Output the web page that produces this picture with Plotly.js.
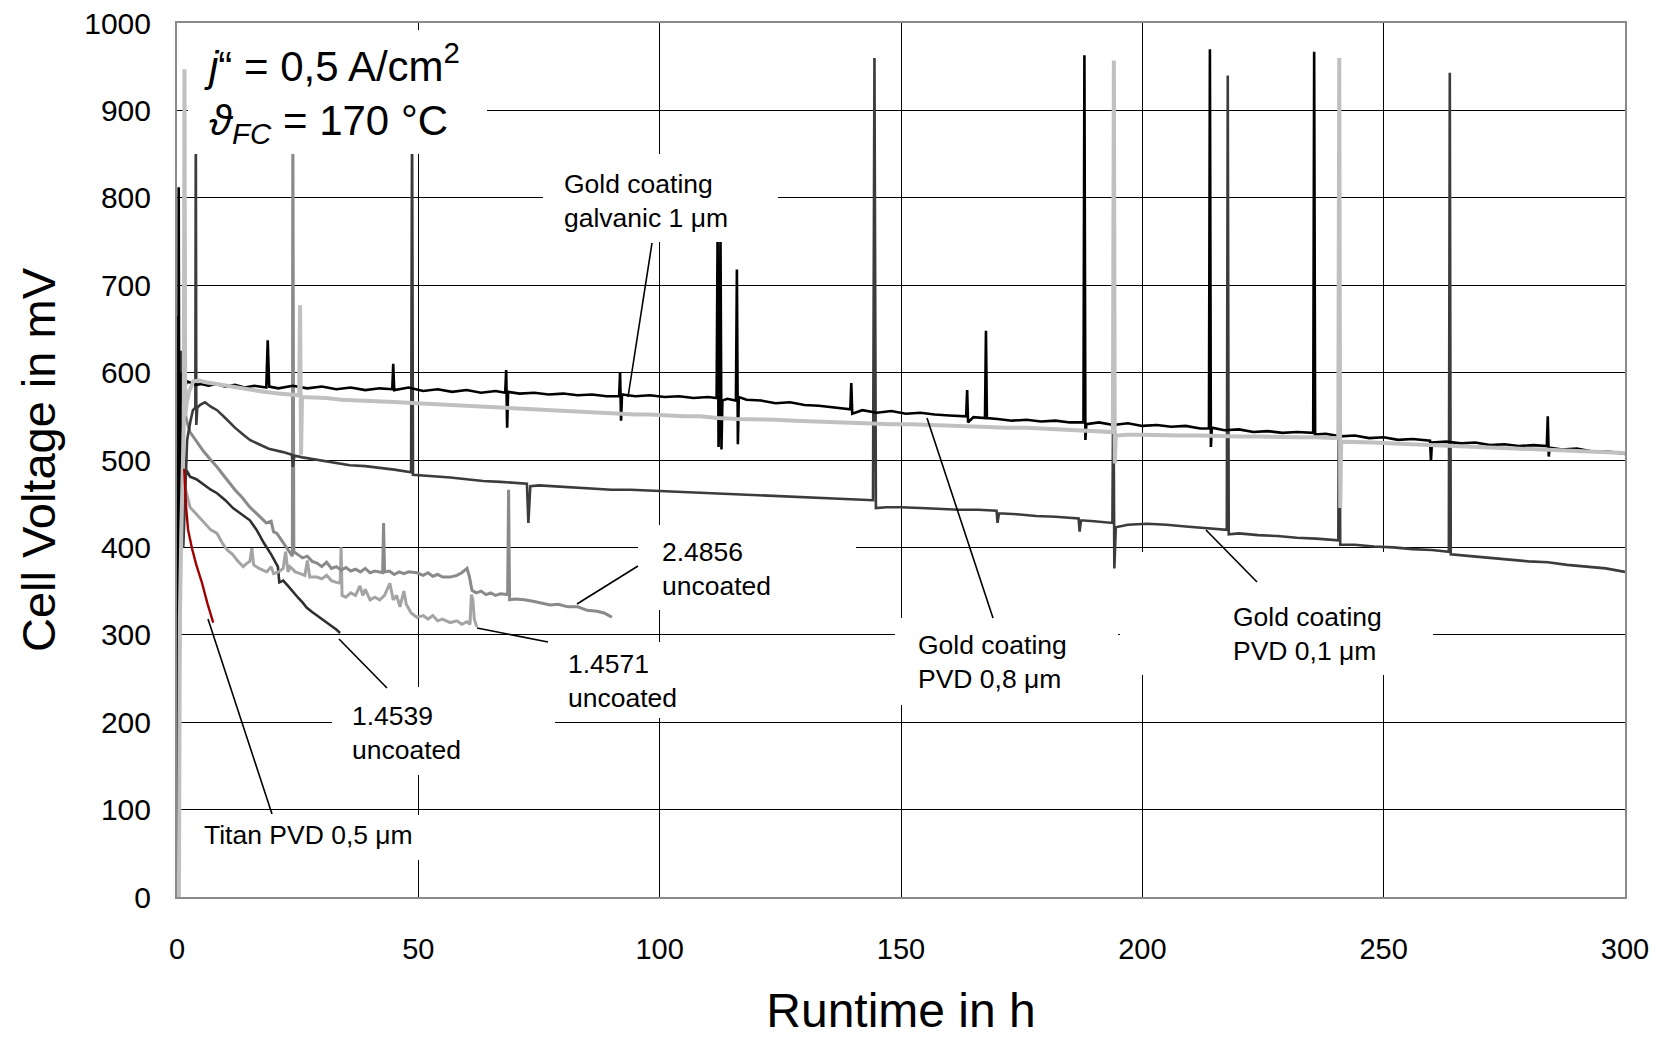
<!DOCTYPE html>
<html>
<head>
<meta charset="utf-8">
<script src="https://cdn.plot.ly/plotly-3.0.1.min.js"></script>
<style>html,body{margin:0;padding:0;background:#fff;}#chart{width:1662px;height:1037px;}</style>
</head>
<body>
<div id="chart"></div>
<script>
// ---------------- DATA (runtime in h, cell voltage in mV) ----------------
const galvanicX = [0.2,0.35,0.5,0.7,1.0,1.5,2.0,3.0,4.0,5.0,6.5,8.2,10,12,14,16,18.5,18.8,19.1,21,24,27,30,33,36,39,42,44.6,44.8,45.0,48,51,54,57,60,63,66,68.0,68.2,68.4,68.6,71,74,77,80,83,86,89,91.6,91.8,92.0,92.2,95,98,101,104,107,110,111.8,112.0,112.2,112.4,112.6,112.8,113.0,114,115.8,116.0,116.2,116.4,118,121,124,127,130,133,136,139.5,139.7,139.9,142,145,148,151,154,157,160,163.5,163.7,163.9,165,167.4,167.6,167.8,170,173,176,179,182,185,187.8,188.0,188.2,188.4,191,194,197,200,203,206,209,212,213.8,214.0,214.2,214.4,217,220,223,226,229,232,235.4,235.6,235.8,238,241,244,247,250,253,256,259.6,259.8,260.0,263,266,269,272,275,278,281,283.8,284.0,284.2,284.4,287,290,293,296,300];
const galvanicY = [0,812,420,560,600,578,590,588,586,587,585,587,584,586,583,585,583,637,584,582,585,582,584,581,583,580,582,581,610,580,583,579,581,578,580,577,579,577,603,537,578,576,577,575,576,574,575,573,573,600,545,575,573,574,572,573,571,572,571,760,515,560,760,512,568,570,568,718,518,572,569,568,565,566,563,562,560,558,588,553,557,554,556,553,554,552,551,550,580,543,549,548,648,548,547,545,546,544,545,543,543,963,523,541,543,540,542,539,540,538,539,536,536,970,515,537,534,535,532,533,531,532,531,967,529,530,527,528,525,526,523,524,522,499,520,521,519,520,517,518,516,517,516,550,504,514,512,513,510,510,507];

const pvd08X = [0.4,0.6,0.9,1.2,1.4,1.55,1.7,2.0,2.5,3.4,4.5,6,8.2,10,12,15.1,18,21,24,25.3,25.5,25.7,25.9,28,31,34,37,40,43,46,49.7,53,56,60,63.4,67,70,74,77.3,81,84,87.6,91,95,98,101,105,108.4,112,116,120,124,128,132,136,140,144,148,152,156,160,164,168,172,176,180,184,188,191,193.9,194.1,194.3,194.5,197,200,204,208,212,216,220,224,228,232,236,240.6,240.8,241.0,241.2,244,248,252,256,260,264,268,272,276,280,284,288,292,296,300];
const pvd08Y = [0,320,420,500,540,947,550,565,578,590,591,589,587,585,583,580,578,576,574,574,677,506,572,572,571,569,568,567,566,566,565,564,563,562,561,560,559,558,557,556,555,554,553,552,552,551,550,550,548,547,547,546,545,544,543,543,542,541,541,540,539,539,538,537,537,536,535,534,533,532,957,496,528,529,529,528,528,528,527,527,527,526,526,526,525,960,445,521,521,520,519,518,518,517,516,515,514,513,512,511,510,509,508];

const pvd01X = [0.15,0.25,0.6,0.9,1.3,2.1,2.8,3.3,3.8,3.9,4.0,4.2,4.8,5.8,7,8.3,10,12,13.5,15.1,17,19,22,23.8,24.0,24.3,26,29,32,35.8,39,42.7,45,48.5,48.7,48.9,52,56.6,60,63.4,67,70,72.5,72.8,73.2,75,78,82,86,90,94,98,102,106,110,114,118,122,126,130,134,138,141,144.2,144.5,144.8,147,150,154,158,162,166,169.8,170.0,170.3,174,178,182,186.8,187.0,187.3,190,193.8,194.0,194.2,194.5,197,201,205,209,212.8,215,217.5,217.7,217.9,220,224,228,232,236,240.6,240.8,241.0,244,248,252,256,260,263.5,263.7,263.9,268,272,276,280,284,288,292,296,300];
const pvd01Y = [665,0,300,625,400,523,545,557,560,900,540,560,563,566,561,557,548,537,530,523,518,513,509,506,492,505,503,500,497,494,493,491,489,486,900,483,482,480,478,476,475,474,473,428,470,471,470,468,467,466,466,465,464,463,462,461,460,459,458,457,456,455,455,454,960,445,446,446,445,444,443,443,442,428,439,438,436,435,433,418,431,430,428,607,376,423,426,427,426,424,422,421,420,940,415,416,414,413,411,410,408,680,403,403,401,400,398,397,395,943,392,390,388,386,384,383,380,378,376,372];

const u2_4856X = [1.5,2.0,2.7,4,5.5,7,8.3,10,12,13.5,15.1,17,18.5,19.5,20,20.7,22,23.5,23.9,24.0,24.2,25,26,27,28,29,30,31,32,33,34,35,36,37,38,39,40,41,42.6,42.8,43.0,44,45,46,47,48,49.7,51,52,53,54,55,56.6,58,59,60.1,60.6,61.1,62,63,64,65,66,67,68.5,68.7,68.9,70,72,74,76,77.3,79,81,83,85,87,88.5,89.5,90.1];
const u2_4856Y = [560,545,532,522,510,500,492,480,466,457,446,436,428,430,418,416,405,392,390,900,395,392,388,390,384,382,378,383,376,378,374,377,373,375,372,376,371,373,371,428,372,373,369,372,370,372,371,368,371,367,369,366,366,368,371,376,366,351,348,350,346,348,345,347,346,466,340,341,340,338,336,334,335,332,332,328,327,325,322,320];

const u1_4571X = [1.0,1.6,2.7,4,5.5,7,8.3,9.5,10.4,11.5,12.5,13.7,14.5,15.1,15.5,15.9,17,18,18.6,19.5,20,21,22,22.5,23,23.4,24.5,25.5,26.5,27,27.5,29,30,31,32,33,33.8,34.0,34.2,35,36,37,37.9,38.5,39,40,41,42,43,44.1,44.8,45.5,46.2,47,47.5,48.5,49.7,51,52,53,54,55,56.6,58,59,60.1,60.7,61.0,61.3,61.6,62.1];
const u1_4571Y = [500,470,446,438,428,420,416,404,397,392,385,378,382,384,399,380,376,374,372,378,370,372,376,395,372,378,372,370,368,385,366,366,364,368,362,360,359,400,345,343,348,345,356,345,352,340,343,340,345,359,340,345,332,350,335,325,320,322,318,322,316,318,314,316,312,315,312,346,340,318,309];

const u1_4539X = [1.0,1.5,2.0,2.7,4,5.5,7,8.3,10,11.6,13,15.1,16.5,18,19.5,20.9,21.2,21.6,22,23,24,25,26,26.9,28,29,30,31,32,33,33.8];
const u1_4539Y = [400,470,488,481,478,472,466,462,454,445,439,431,420,405,392,378,360,361,362,356,349,343,337,331,326,322,318,314,311,306,302];

const titanX = [1.5,1.9,2.3,3.1,4.0,5.2,6.3,7.5];
const titanY = [490,445,420,399,380,359,336,314];

const xTicks = [0,50,100,150,200,250,300];
const yTicks = [0,100,200,300,400,500,600,700,800,900,1000];

// ---------------- helpers: pixel position -> paper fraction ----------------
const PL = 177, PR = 1625, PT = 23, PB = 897;
const fx = px => (px - PL) / (PR - PL);
const fy = py => (PB - py) / (PB - PT);

function tr(x, y, color, width) {
  return {x: x, y: y, type: 'scatter', mode: 'lines', line: {color: color, width: width}, hoverinfo: 'skip'};
}
const traces = [
  tr(u1_4539X, u1_4539Y, '#2f2f2f', 2.6),
  tr(u1_4571X, u1_4571Y, '#a4a4a4', 3),
  tr(u2_4856X, u2_4856Y, '#8a8a8a', 3),
  tr(pvd01X, pvd01Y, '#3c3c3c', 2.6),
  tr(galvanicX, galvanicY, '#000000', 2.6),
  tr(pvd08X, pvd08Y, '#c0c0c0', 4),
  tr(titanX, titanY, '#a00000', 2.4)
];

// white label boxes (pixel rects), drawn above the traces
const boxes = [
  [188, 487, 30, 154],
  [543, 778, 154, 242],
  [895, 1118, 618, 705],
  [1120, 1433, 552, 675],
  [638, 856, 525, 610],
  [548, 700, 642, 718],
  [332, 555, 687, 775],
  [190, 430, 815, 860]
];
// leader lines (pixel coords)
const leaders = [
  [652, 243, 628, 397],
  [927, 418, 993, 618],
  [1206, 530, 1257, 582],
  [577, 604, 638, 566],
  [477, 628, 548, 642],
  [339, 639, 387, 688],
  [208, 619, 272, 814]
];
const shapes = [];
boxes.forEach(b => shapes.push({type: 'rect', xref: 'paper', yref: 'paper', layer: 'above',
  x0: fx(b[0]), x1: fx(b[1]), y0: fy(b[3]), y1: fy(b[2]), fillcolor: '#ffffff', line: {width: 0}}));
leaders.forEach(l => shapes.push({type: 'line', xref: 'paper', yref: 'paper', layer: 'above',
  x0: fx(l[0]), y0: fy(l[1]), x1: fx(l[2]), y1: fy(l[3]), line: {color: '#000', width: 1.6}}));

function lab(text, pxLeft, pyMid, size) {
  return {text: text, xref: 'paper', yref: 'paper', x: fx(pxLeft), y: fy(pyMid), xanchor: 'left', yanchor: 'middle',
    align: 'left', showarrow: false, borderpad: 0, font: {size: size, color: '#000', family: 'Liberation Sans, Arial, sans-serif'}};
}
const annotations = [
  lab('<i>j</i>“ = 0,5 A/cm<sup>2</sup><br><i>ϑ<sub>FC</sub></i> = 170 °C', 203, 93, 42),
  lab('Gold coating<br>galvanic 1 μm', 563, 201, 26.5),
  lab('Gold coating<br>PVD 0,8 μm', 917, 662, 26.5),
  lab('Gold coating<br>PVD 0,1 μm', 1232, 634, 26.5),
  lab('2.4856<br>uncoated', 661, 569, 26.5),
  lab('1.4571<br>uncoated', 567, 681, 26.5),
  lab('1.4539<br>uncoated', 351, 733, 26.5),
  lab('Titan PVD 0,5 μm', 203, 835, 26.5)
];

const layout = {
  width: 1662, height: 1037,
  margin: {l: PL, r: 1662 - PR, t: PT, b: 1037 - PB},
  paper_bgcolor: '#ffffff', plot_bgcolor: '#ffffff',
  showlegend: false,
  font: {family: 'Liberation Sans, Arial, sans-serif', color: '#000'},
  xaxis: {
    range: [0, 300], tickmode: 'array', tickvals: xTicks, ticktext: xTicks.map(String),
    showgrid: true, gridcolor: '#000', gridwidth: 1, zeroline: false,
    showline: true, linecolor: '#8a8a8a', linewidth: 2, mirror: true, ticks: '',
    tickfont: {size: 29, color: '#000'}, ticklabelstandoff: 25,
    title: {text: 'Runtime in h', font: {size: 48, color: '#000'}, standoff: 42}
  },
  yaxis: {
    range: [0, 1000], tickmode: 'array', tickvals: yTicks, ticktext: yTicks.map(String),
    showgrid: true, gridcolor: '#000', gridwidth: 1, zeroline: false,
    showline: true, linecolor: '#8a8a8a', linewidth: 2, mirror: true, ticks: '',
    tickfont: {size: 30, color: '#000'}, ticklabelstandoff: 18,
    title: {text: 'Cell Voltage in mV', font: {size: 47, color: '#000'}, standoff: 14}
  },
  shapes: shapes,
  annotations: annotations
};

Plotly.newPlot('chart', traces, layout, {displayModeBar: false, staticPlot: true});
</script>
</body>
</html>
